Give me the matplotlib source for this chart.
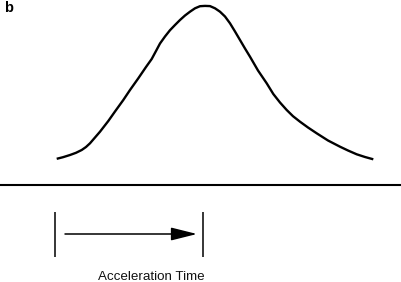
import matplotlib
matplotlib.use("Agg")
import matplotlib.pyplot as plt

# Curve trace (x position, height; y axis grows downward like the drawing)
curve_x = [56.7, 63, 70, 76, 81.7, 86, 90, 95, 100, 108.3, 115, 123.3, 130, 138.3, 146, 151.7,
           156, 160, 165, 170, 175, 180, 185, 190, 195, 200, 205, 210,
           215, 220, 225, 230, 235, 240, 245, 250, 258, 266.7, 273.3, 280, 286.7,
           293, 300, 308, 316.7, 328, 340, 348, 356.7, 365, 373.3]
curve_y = [158.8, 157.2, 155, 152.8, 150, 147, 143.3, 137.5, 131.7, 121, 111.5, 100, 90, 78.3, 67, 59,
           51, 43.5, 36.5, 30.2, 25, 20, 15.5, 11.7, 8.3, 6.2, 5.9, 6.1,
           8.3, 11.7, 16.5, 23.3, 31.5, 40, 48.5, 56.7, 70.5, 83.3, 94, 102.5, 110,
           116.2, 121.7, 127.5, 133.3, 140.5, 146.7, 150.5, 154.3, 157, 159.3]

baseline_y = 185
interval_start = 55
interval_end = 203
bar_top, bar_bottom = 212, 257
arrow_y = 234
arrow_from, arrow_to = 65, 197
label = "Acceleration Time"
label_x, label_y = 151, 277
panel = "b"

plt.rcParams['font.family'] = ['Liberation Sans', 'DejaVu Sans']

fig = plt.figure(figsize=(4.02, 2.82), dpi=100)
ax = fig.add_axes([0, 0, 1, 1])
ax.set_xlim(0, 402)
ax.set_ylim(282, 0)
ax.axis('off')

ax.plot(curve_x, curve_y, color='black', lw=1.7, solid_capstyle='butt', solid_joinstyle='round')
ax.axhline(baseline_y, color='black', lw=1.5)
ax.vlines([interval_start, interval_end], bar_top, bar_bottom, color='black', lw=1.1)
ax.annotate('', xy=(arrow_to, arrow_y), xytext=(arrow_from, arrow_y),
            arrowprops=dict(arrowstyle='-|>,head_length=1.6,head_width=0.4',
                            mutation_scale=10, color='black', lw=1.1,
                            shrinkA=0, shrinkB=0))
ax.text(label_x, label_y, label, ha='center', va='center', fontsize=9.6, color='#111111')
ax.text(4, 12, panel, ha='left', va='baseline', fontsize=10.5, fontweight='bold')

fig.savefig('out.png', dpi=100)
